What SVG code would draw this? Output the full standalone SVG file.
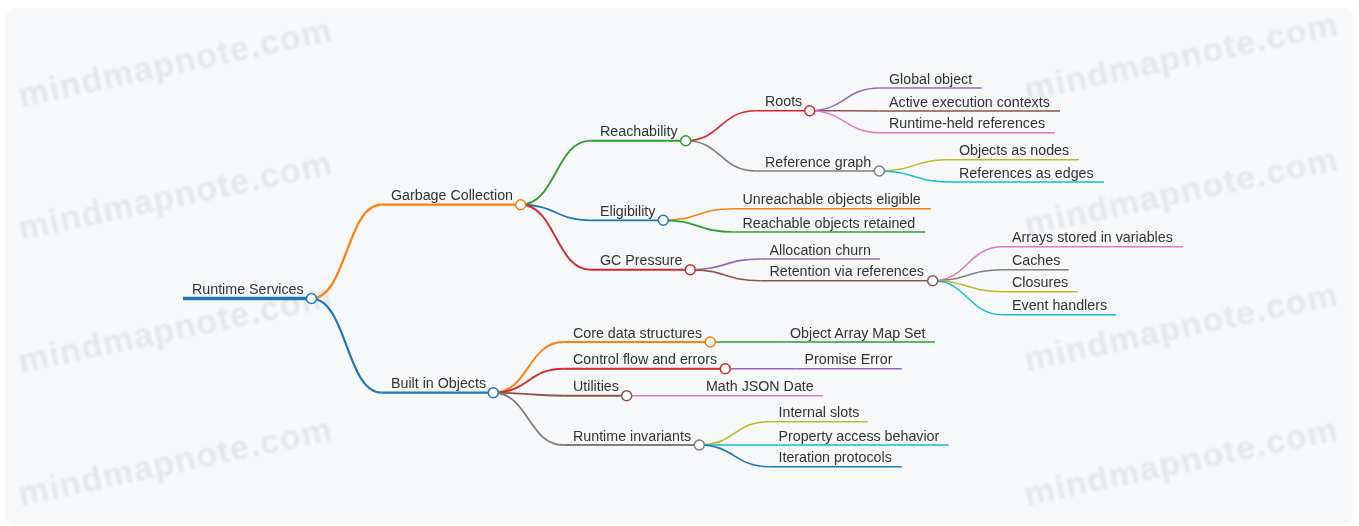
<svg xmlns="http://www.w3.org/2000/svg" width="1359" height="526" viewBox="0 0 1359 526">
  <style>
    .t { font-family: "Liberation Sans", Arial, sans-serif; font-size: 14.25px; fill: #333333; }
    .wm { font-family: "Liberation Sans", Arial, sans-serif; font-weight: bold; font-size: 34px; letter-spacing: 1.2px; fill: #e4e6e9; }
    .ln { fill: none; stroke-linecap: butt; }
    .dot { fill: #ffffff; stroke-width: 1.5; }
    .d0 { stroke-width: 3.5; }
    .d1 { stroke-width: 2.2; }
    .d2 { stroke-width: 1.85; }
    .d3 { stroke-width: 1.65; }
    .d4 { stroke-width: 1.5; }
    .blue { stroke: #1f77b4; }
    .orange { stroke: #ff7f0e; }
    .green { stroke: #2ca02c; }
    .red { stroke: #d62728; }
    .purple { stroke: #9467bd; }
    .brown { stroke: #8c564b; }
    .pink { stroke: #e377c2; }
    .gray { stroke: #7f7f7f; }
    .olive { stroke: #bcbd22; }
    .cyan { stroke: #17becf; }
  </style>
  <defs>
    <filter id="soft" x="-5%" y="-20%" width="110%" height="140%">
      <feGaussianBlur stdDeviation="0.9"/>
    </filter>
  </defs>

  <!-- canvas -->
  <rect x="0" y="0" width="1359" height="526" fill="#ffffff"/>
  <rect x="5" y="8" width="1349" height="516" rx="10" fill="#f7f8fa"/>

  <!-- watermark -->
  <g id="watermark" filter="url(#soft)">
    <text class="wm" transform="translate(21 107) rotate(-12)">mindmapnote.com</text>
    <text class="wm" transform="translate(21 240) rotate(-12)">mindmapnote.com</text>
    <text class="wm" transform="translate(21 373) rotate(-12)">mindmapnote.com</text>
    <text class="wm" transform="translate(21 506) rotate(-12)">mindmapnote.com</text>
    <text class="wm" transform="translate(1027 101) rotate(-12)">mindmapnote.com</text>
    <text class="wm" transform="translate(1027 236) rotate(-12)">mindmapnote.com</text>
    <text class="wm" transform="translate(1027 371) rotate(-12)">mindmapnote.com</text>
    <text class="wm" transform="translate(1027 506) rotate(-12)">mindmapnote.com</text>
  </g>

  <!-- connectors: parent dot to child underline start -->
  <g id="links" class="ln">
    <path class="ln d1 orange" d="M311.5 298.5 C346.5 298.5 346.5 204.7 381.5 204.7"/>
    <path class="ln d1 blue" d="M311.5 298.5 C346.5 298.5 346.5 392.7 381.5 392.7"/>

    <path class="ln d2 green" d="M520.7 204.7 C555.7 204.7 555.7 140.7 590.7 140.7"/>
    <path class="ln d2 blue" d="M520.7 204.7 C555.7 204.7 555.7 220.3 590.7 220.3"/>
    <path class="ln d2 red" d="M520.7 204.7 C555.7 204.7 555.7 269.7 590.7 269.7"/>

    <path class="ln d3 red" d="M685.7 140.7 C720.7 140.7 720.7 110.7 755.7 110.7"/>
    <path class="ln d3 gray" d="M685.7 140.7 C720.7 140.7 720.7 171 755.7 171"/>

    <path class="ln d4 purple" d="M809.7 110.7 C844.7 110.7 844.7 88 879.7 88"/>
    <path class="ln d4 brown" d="M809.7 110.7 C844.7 110.7 844.7 111 879.7 111"/>
    <path class="ln d4 pink" d="M809.7 110.7 C844.7 110.7 844.7 132.7 879.7 132.7"/>

    <path class="ln d4 olive" d="M879.3 171 C914.3 171 914.3 159.7 949.3 159.7"/>
    <path class="ln d4 cyan" d="M879.3 171 C914.3 171 914.3 182 949.3 182"/>

    <path class="ln d3 orange" d="M663.3 220.3 C698.3 220.3 698.3 208.7 733.3 208.7"/>
    <path class="ln d3 green" d="M663.3 220.3 C698.3 220.3 698.3 232 733.3 232"/>

    <path class="ln d3 purple" d="M690.3 269.7 C725.3 269.7 725.3 259 760.3 259"/>
    <path class="ln d3 brown" d="M690.3 269.7 C725.3 269.7 725.3 280.7 760.3 280.7"/>

    <path class="ln d4 pink" d="M932.7 280.7 C967.7 280.7 967.7 246.7 1002.7 246.7"/>
    <path class="ln d4 gray" d="M932.7 280.7 C967.7 280.7 967.7 269.7 1002.7 269.7"/>
    <path class="ln d4 olive" d="M932.7 280.7 C967.7 280.7 967.7 291.7 1002.7 291.7"/>
    <path class="ln d4 cyan" d="M932.7 280.7 C967.7 280.7 967.7 314.8 1002.7 314.8"/>

    <path class="ln d2 orange" d="M493.3 392.7 C528.3 392.7 528.3 342 563.3 342"/>
    <path class="ln d2 red" d="M493.3 392.7 C528.3 392.7 528.3 368.7 563.3 368.7"/>
    <path class="ln d2 brown" d="M493.3 392.7 C528.3 392.7 528.3 395.7 563.3 395.7"/>
    <path class="ln d2 gray" d="M493.3 392.7 C528.3 392.7 528.3 445 563.3 445"/>

    <path class="ln d3 green" d="M710.3 342 C745.3 342 745.3 342 780.3 342"/>
    <path class="ln d3 purple" d="M725.3 368.7 C760.3 368.7 760.3 368.7 795.3 368.7"/>
    <path class="ln d3 pink" d="M626.7 395.7 C661.7 395.7 661.7 395.7 696.7 395.7"/>

    <path class="ln d3 olive" d="M699.3 445 C734.3 445 734.3 421.7 769.3 421.7"/>
    <path class="ln d3 cyan" d="M699.3 445 C734.3 445 734.3 445 769.3 445"/>
    <path class="ln d3 blue" d="M699.3 445 C734.3 445 734.3 466.7 769.3 466.7"/>
  </g>

  <!-- root -->
  <g id="n-runtime-services">
    <line class="ln d0 blue" x1="183" y1="298.5" x2="311.5" y2="298.5"/>
    <text class="t" x="192" y="294">Runtime Services</text>
    <circle class="dot blue" cx="311.5" cy="298.5" r="5"/>
  </g>

  <!-- Garbage Collection branch -->
  <g id="n-garbage-collection">
    <line class="ln d1 orange" x1="381.5" y1="204.7" x2="520.7" y2="204.7"/>
    <text class="t" x="391" y="200">Garbage Collection</text>
    <circle class="dot orange" cx="520.7" cy="204.7" r="5"/>
  </g>
  <g id="n-reachability">
    <line class="ln d2 green" x1="590.7" y1="140.7" x2="685.7" y2="140.7"/>
    <text class="t" x="600" y="136">Reachability</text>
    <circle class="dot green" cx="685.7" cy="140.7" r="5"/>
  </g>
  <g id="n-roots">
    <line class="ln d3 red" x1="755.7" y1="110.7" x2="809.7" y2="110.7"/>
    <text class="t" x="765" y="106">Roots</text>
    <circle class="dot red" cx="809.7" cy="110.7" r="5"/>
  </g>
  <g id="n-global-object">
    <line class="ln d4 purple" x1="879.7" y1="88" x2="981.7" y2="88"/>
    <text class="t" x="889" y="83.5">Global object</text>
  </g>
  <g id="n-active-execution-contexts">
    <line class="ln d4 brown" x1="879.7" y1="111" x2="1060" y2="111"/>
    <text class="t" x="889" y="106.5">Active execution contexts</text>
  </g>
  <g id="n-runtime-held-references">
    <line class="ln d4 pink" x1="879.7" y1="132.7" x2="1055" y2="132.7"/>
    <text class="t" x="889" y="128">Runtime-held references</text>
  </g>
  <g id="n-reference-graph">
    <line class="ln d3 gray" x1="755.7" y1="171" x2="879.3" y2="171"/>
    <text class="t" x="765" y="166.5">Reference graph</text>
    <circle class="dot gray" cx="879.3" cy="171" r="5"/>
  </g>
  <g id="n-objects-as-nodes">
    <line class="ln d4 olive" x1="949.3" y1="159.7" x2="1079" y2="159.7"/>
    <text class="t" x="959" y="155">Objects as nodes</text>
  </g>
  <g id="n-references-as-edges">
    <line class="ln d4 cyan" x1="949.3" y1="182" x2="1104" y2="182"/>
    <text class="t" x="959" y="177.5">References as edges</text>
  </g>
  <g id="n-eligibility">
    <line class="ln d2 blue" x1="590.7" y1="220.3" x2="663.3" y2="220.3"/>
    <text class="t" x="600" y="216">Eligibility</text>
    <circle class="dot blue" cx="663.3" cy="220.3" r="5"/>
  </g>
  <g id="n-unreachable-objects-eligible">
    <line class="ln d3 orange" x1="733.3" y1="208.7" x2="930.7" y2="208.7"/>
    <text class="t" x="742.5" y="204">Unreachable objects eligible</text>
  </g>
  <g id="n-reachable-objects-retained">
    <line class="ln d3 green" x1="733.3" y1="232" x2="925" y2="232"/>
    <text class="t" x="742.5" y="227.5">Reachable objects retained</text>
  </g>
  <g id="n-gc-pressure">
    <line class="ln d2 red" x1="590.7" y1="269.7" x2="690.3" y2="269.7"/>
    <text class="t" x="600" y="265">GC Pressure</text>
    <circle class="dot red" cx="690.3" cy="269.7" r="5"/>
  </g>
  <g id="n-allocation-churn">
    <line class="ln d3 purple" x1="760.3" y1="259" x2="880" y2="259"/>
    <text class="t" x="769.5" y="254.5">Allocation churn</text>
  </g>
  <g id="n-retention-via-references">
    <line class="ln d3 brown" x1="760.3" y1="280.7" x2="932.7" y2="280.7"/>
    <text class="t" x="769.5" y="276">Retention via references</text>
    <circle class="dot brown" cx="932.7" cy="280.7" r="5"/>
  </g>
  <g id="n-arrays-stored-in-variables">
    <line class="ln d4 pink" x1="1002.7" y1="246.7" x2="1183" y2="246.7"/>
    <text class="t" x="1012" y="242">Arrays stored in variables</text>
  </g>
  <g id="n-caches">
    <line class="ln d4 gray" x1="1002.7" y1="269.7" x2="1068.7" y2="269.7"/>
    <text class="t" x="1012" y="265">Caches</text>
  </g>
  <g id="n-closures">
    <line class="ln d4 olive" x1="1002.7" y1="291.7" x2="1077.7" y2="291.7"/>
    <text class="t" x="1012" y="287">Closures</text>
  </g>
  <g id="n-event-handlers">
    <line class="ln d4 cyan" x1="1002.7" y1="314.8" x2="1116" y2="314.8"/>
    <text class="t" x="1012" y="310">Event handlers</text>
  </g>

  <!-- Built in Objects branch -->
  <g id="n-built-in-objects">
    <line class="ln d1 blue" x1="381.5" y1="392.7" x2="493.3" y2="392.7"/>
    <text class="t" x="391" y="388">Built in Objects</text>
    <circle class="dot blue" cx="493.3" cy="392.7" r="5"/>
  </g>
  <g id="n-core-data-structures">
    <line class="ln d2 orange" x1="563.3" y1="342" x2="710.3" y2="342"/>
    <text class="t" x="573" y="337.5">Core data structures</text>
    <circle class="dot orange" cx="710.3" cy="342" r="5"/>
  </g>
  <g id="n-object-array-map-set">
    <line class="ln d3 green" x1="780.3" y1="342" x2="935" y2="342"/>
    <text class="t" x="790" y="337.5">Object Array Map Set</text>
  </g>
  <g id="n-control-flow-and-errors">
    <line class="ln d2 red" x1="563.3" y1="368.7" x2="725.3" y2="368.7"/>
    <text class="t" x="573" y="364">Control flow and errors</text>
    <circle class="dot red" cx="725.3" cy="368.7" r="5"/>
  </g>
  <g id="n-promise-error">
    <line class="ln d3 purple" x1="795.3" y1="368.7" x2="901.7" y2="368.7"/>
    <text class="t" x="804.5" y="364">Promise Error</text>
  </g>
  <g id="n-utilities">
    <line class="ln d2 brown" x1="563.3" y1="395.7" x2="626.7" y2="395.7"/>
    <text class="t" x="573" y="391">Utilities</text>
    <circle class="dot brown" cx="626.7" cy="395.7" r="5"/>
  </g>
  <g id="n-math-json-date">
    <line class="ln d3 pink" x1="696.7" y1="395.7" x2="822.7" y2="395.7"/>
    <text class="t" x="706" y="391">Math JSON Date</text>
  </g>
  <g id="n-runtime-invariants">
    <line class="ln d2 gray" x1="563.3" y1="445" x2="699.3" y2="445"/>
    <text class="t" x="573" y="440.5">Runtime invariants</text>
    <circle class="dot gray" cx="699.3" cy="445" r="5"/>
  </g>
  <g id="n-internal-slots">
    <line class="ln d3 olive" x1="769.3" y1="421.7" x2="867.7" y2="421.7"/>
    <text class="t" x="778.5" y="417">Internal slots</text>
  </g>
  <g id="n-property-access-behavior">
    <line class="ln d3 cyan" x1="769.3" y1="445" x2="948.7" y2="445"/>
    <text class="t" x="778.5" y="440.5">Property access behavior</text>
  </g>
  <g id="n-iteration-protocols">
    <line class="ln d3 blue" x1="769.3" y1="466.7" x2="901.7" y2="466.7"/>
    <text class="t" x="778.5" y="462">Iteration protocols</text>
  </g>
</svg>
